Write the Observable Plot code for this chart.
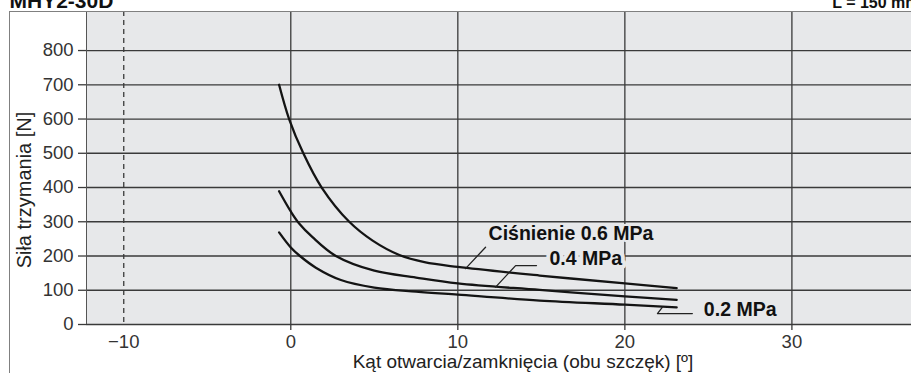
<!DOCTYPE html>
<html><head><meta charset="utf-8">
<script src="https://cdn.jsdelivr.net/npm/d3@7"></script>
<script src="https://cdn.jsdelivr.net/npm/@observablehq/plot@0.6"></script>
<style>
html,body{margin:0;padding:0;background:#fff;overflow:hidden}
#wrap{position:relative;width:911px;height:373px}
#border{position:absolute;left:9px;top:10.5px;width:920px;height:400px;border-left:1px solid #808080;border-top:1px solid #808080;pointer-events:none}
</style></head><body><div id="wrap"><div id="chart"></div><div id="border"></div></div>
<script>
// axes
const xTicks = [-10, 0, 10, 20, 30];
const xTickMarks = [0, 10, 20, 30];
const solidGridX = [0, 10, 20, 30];
const dashedGridX = [-10];
const yTicks = [0, 100, 200, 300, 400, 500, 600, 700, 800];
const xDomain = [-12.23, 37.16];
const yDomain = [0, 914];

// series: holding force [N] vs. opening/closing angle [deg]
const angle06 = [-0.7, -0.1, 0.75, 1.85, 3.5, 4.9, 6.5, 8, 10, 14.9, 20, 23.1];
const force06 = [700, 600, 500, 400, 300, 245, 203, 182, 168, 143, 120, 106];
const angle04 = [-0.7, 0, 0.5, 1.3, 2.7, 5, 7.5, 10, 14.9, 20, 23.1];
const force04 = [389, 330, 295, 255, 200, 157, 137, 120, 101, 82, 72];
const angle02 = [-0.7, 0, 0.55, 1.5, 3, 5, 7.5, 10, 14.9, 20, 23.1];
const force02 = [269, 225, 200, 166, 130, 108, 96, 87, 70, 58, 50];

// annotations
const seriesLabels = ["Ciśnienie 0.6 MPa", "0.4 MPa", "0.2 MPa"];
const labelX = [11.84, 15.49, 24.73];
const labelY = [266, 192, 44];
const labelHalo = [4, 8, 8];
const leader06X = [11.66, 10.46], leader06Y = [225.7, 163];
const leader04X = [14.71, 13.46, 12.26], leader04Y = [172, 172, 109];
const leader02X = [24.04, 21.95, 22.25], leader02Y = [32, 32, 51];

const title = "MHY2-30D";
const lengthNote = "L = 150 mm";
const xLabel = "Kąt otwarcia/zamknięcia (obu szczęk) [º]";
const yLabel = "Siła trzymania [N]";

const toRows = (xs, ys, s) => xs.map((x, i) => ({x, y: ys[i], s}));
const curves = [
  ...toRows(angle06, force06, "0.6"),
  ...toRows(angle04, force04, "0.4"),
  ...toRows(angle02, force02, "0.2")
];
const leaders = [
  ...toRows(leader06X, leader06Y, "l6"),
  ...toRows(leader04X, leader04Y, "l4"),
  ...toRows(leader02X, leader02Y, "l2")
];
const labels = seriesLabels.map((t, i) => ({t, x: labelX[i], y: labelY[i], h: labelHalo[i]}));

const gridColor = "#3a3a3a";
const bg = "#e7e8ea";

const chart = Plot.plot({
  width: 911,
  height: 373,
  marginLeft: 86,
  marginRight: 0,
  marginTop: 11,
  marginBottom: 49,
  style: {fontFamily: "'Liberation Sans', Arial, Helvetica, sans-serif", fontSize: "18.5px", color: "#333", background: "transparent", overflow: "hidden"},
  x: {domain: xDomain, label: null},
  y: {domain: yDomain, label: null},
  marks: [
    Plot.frame({fill: bg, stroke: null}),
    Plot.ruleY(yTicks, {stroke: gridColor, strokeWidth: 1.3}),
    Plot.ruleX(solidGridX, {stroke: gridColor, strokeWidth: 1.3}),
    Plot.ruleX(dashedGridX, {stroke: gridColor, strokeWidth: 1.3, strokeDasharray: "5,4"}),
    Plot.ruleX([xDomain[0]], {stroke: "#555", strokeWidth: 1}),
    Plot.axisY({ticks: yTicks, tickSize: 8, tickPadding: 5, stroke: gridColor, strokeWidth: 1.3, label: null}),
    Plot.axisX({ticks: xTickMarks, tickSize: 6, tickFormat: () => "", stroke: gridColor, strokeWidth: 1.3, label: null}),
    Plot.axisX({ticks: xTicks, tickSize: 0, tickPadding: 10, label: null}),
    Plot.line(curves, {x: "x", y: "y", z: "s", curve: "catmull-rom", stroke: "#141414", strokeWidth: 2.3}),
    Plot.line(leaders, {x: "x", y: "y", z: "s", stroke: "#222", strokeWidth: 1.3}),
    ...labels.map(d => Plot.text([d], {x: "x", y: "y", text: "t", textAnchor: "start", lineAnchor: "middle", fontWeight: "bold", fontSize: 19.5, fill: "#111", stroke: bg, strokeWidth: d.h})),
    Plot.text([xLabel], {frameAnchor: "bottom", dx: 24, dy: 37.5, textAnchor: "middle", lineAnchor: "middle", fontSize: 19, fill: "#222"}),
    Plot.text([yLabel], {frameAnchor: "left", dx: -62, dy: 22, rotate: -90, textAnchor: "middle", lineAnchor: "middle", fontSize: 20, fill: "#222"}),
    Plot.text([title], {frameAnchor: "top-left", dx: -77, dy: -10.2, textAnchor: "start", lineAnchor: "middle", fontWeight: "bold", fontSize: 21, fill: "#111"}),
    Plot.text([lengthNote], {frameAnchor: "top-right", dx: -79.3, dy: -8.6, textAnchor: "start", lineAnchor: "middle", fontWeight: "bold", fontSize: 16, fill: "#111"})
  ]
});
document.getElementById("chart").appendChild(chart);
</script></body></html>
